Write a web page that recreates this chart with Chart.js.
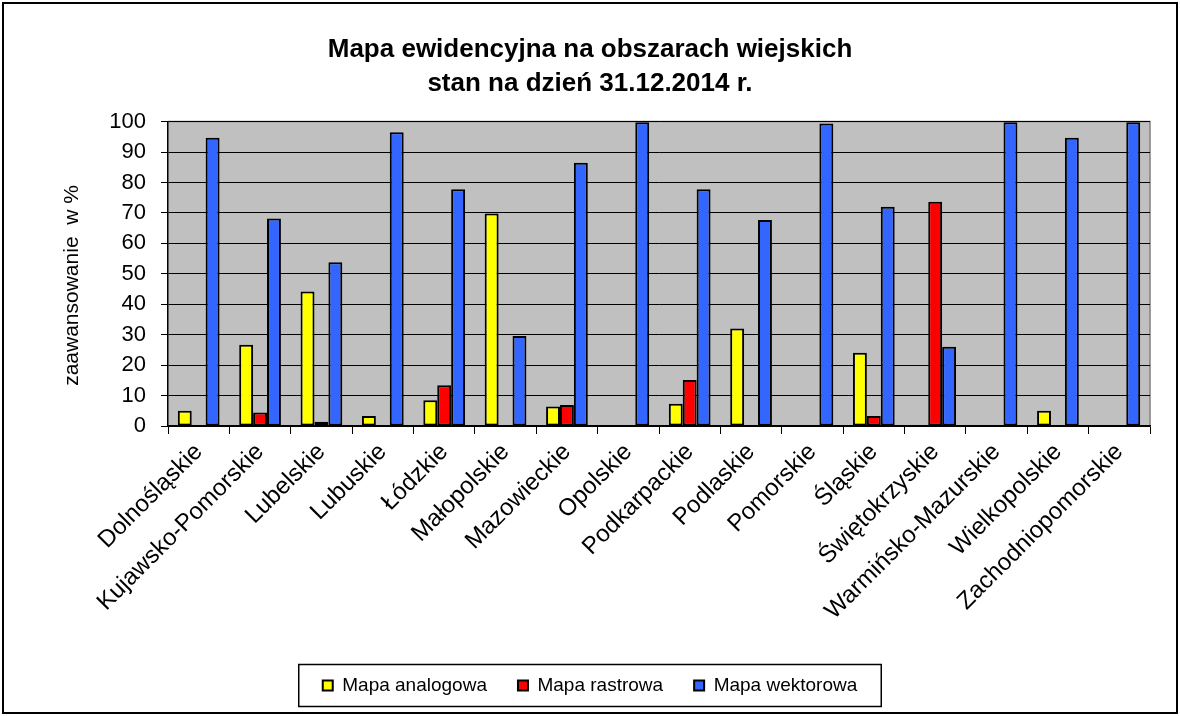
<!DOCTYPE html>
<html>
<head>
<meta charset="utf-8">
<script src="https://cdn.jsdelivr.net/npm/chart.js@4/dist/chart.umd.min.js"></script>
<style>
  html, body { margin: 0; padding: 0; background: #fff; }
  #wrap { width: 1180px; height: 716px; }
</style>
</head>
<body>
<div id="wrap"><canvas id="chart" width="1180" height="716"></canvas></div>
<script>
const categories = [
  "Dolnośląskie", "Kujawsko-Pomorskie", "Lubelskie", "Lubuskie", "Łódzkie",
  "Małopolskie", "Mazowieckie", "Opolskie", "Podkarpackie", "Podlaskie",
  "Pomorskie", "Śląskie", "Świętokrzyskie", "Warmińsko-Mazurskie",
  "Wielkopolskie", "Zachodniopomorskie"
]

const mapaAnalogowa = [5.0, 26.7, 44.2, 3.3, 8.5, 69.8, 6.4, 0, 7.3, 32.0, 0.3, 24.1, 0, 0, 5.0, 0]
const mapaRastrowa = [0, 4.4, 1.4, 0, 13.4, 0, 6.9, 0, 15.1, 0, 0, 3.3, 73.7, 0, 0, 0]
const mapaWektorowa = [94.7, 68.2, 53.8, 96.5, 77.8, 29.6, 86.5, 99.8, 77.8, 67.7, 99.4, 72.0, 26.0, 99.8, 94.7, 99.8]

const titleLines = ["Mapa ewidencyjna na obszarach wiejskich", "stan na dzień 31.12.2014 r."]
const yTicks = [0, 10, 20, 30, 40, 50, 60, 70, 80, 90, 100]

const FONT = "'Liberation Sans', Arial, sans-serif"

// fond, ramka wykresu i obszaru danych
const framePlugin = {
  id: "frame",
  beforeDraw(chart) {
    const { ctx, chartArea: a } = chart
    ctx.save()
    ctx.fillStyle = "#fff"
    ctx.fillRect(0, 0, chart.width, chart.height)
    ctx.lineWidth = 2
    ctx.strokeStyle = "#000"
    ctx.strokeRect(3, 3, chart.width - 6, chart.height - 6)
    ctx.fillStyle = "#c0c0c0"
    ctx.fillRect(a.left, a.top, a.right - a.left, a.bottom - a.top)
    ctx.strokeStyle = "#808080"
    ctx.lineWidth = 1.5
    ctx.beginPath()
    ctx.moveTo(a.left, a.top)
    ctx.lineTo(a.right, a.top)
    ctx.lineTo(a.right, a.bottom)
    ctx.stroke()
    ctx.restore()
  },
  afterDraw(chart) {
    // ramka legendy
    const boxes = chart.legend.legendHitBoxes
    if (!boxes || !boxes.length) return
    const left = Math.min(...boxes.map((b) => b.left)) - 24
    const right = Math.max(...boxes.map((b) => b.left + b.width)) + 24
    const mid = boxes[0].top + boxes[0].height / 2
    const { ctx } = chart
    ctx.save()
    ctx.strokeStyle = "#000"
    ctx.lineWidth = 1.5
    ctx.strokeRect(left, mid - 21, right - left, 42)
    ctx.restore()
  },
}

const ds = (label, data, color) => ({
  label,
  data,
  backgroundColor: color,
  borderColor: "#000",
  borderWidth: 2,
  borderSkipped: false,
  categoryPercentage: 0.68,
  barPercentage: 1.0,
})

new Chart(document.getElementById("chart").getContext("2d"), {
  type: "bar",
  data: {
    labels: categories,
    datasets: [
      ds("Mapa analogowa", mapaAnalogowa, "#ffff00"),
      ds("Mapa rastrowa", mapaRastrowa, "#ff0000"),
      ds("Mapa wektorowa", mapaWektorowa, "#3366ff"),
    ],
  },
  options: {
    responsive: false,
    animation: false,
    layout: { padding: { left: 0, right: 0, top: 0, bottom: 11 } },
    plugins: {
      title: {
        display: true,
        text: titleLines,
        color: "#000",
        font: { family: FONT, size: 26, weight: "bold", lineHeight: 1.3 },
        padding: { top: 33, bottom: 21 },
      },
      legend: {
        position: "bottom",
        labels: {
          color: "#000",
          font: { family: FONT, size: 19 },
          boxWidth: 10,
          boxHeight: 10,
          padding: 31,
        },
      },
      tooltip: { enabled: false },
    },
    scales: {
      x: {
        grid: {
          display: true,
          drawOnChartArea: false,
          drawTicks: true,
          tickLength: 8,
          color: "#000",
          lineWidth: 1,
        },
        border: { display: true, color: "#000", width: 1.5 },
        ticks: {
          color: "#000",
          font: { family: FONT, size: 24 },
          minRotation: 45,
          maxRotation: 45,
          autoSkip: false,
          padding: 4,
        },
        afterFit: (scale) => {
          scale.height = 219
        },
      },
      y: {
        min: 0,
        max: 100,
        afterBuildTicks: (scale) => {
          scale.ticks = yTicks.map((v) => ({ value: v }))
        },
        grid: { color: "#000", lineWidth: 1, tickLength: 7 },
        border: { display: true, color: "#000", width: 1.5 },
        ticks: {
          color: "#000",
          font: { family: FONT, size: 22 },
          padding: 15,
        },
        title: {
          display: true,
          text: "zaawansowanie  w %    ",
          color: "#000",
          font: { family: FONT, size: 21 },
          padding: { top: 60, bottom: 0 },
        },
        afterFit: (scale) => {
          scale.width = 168
        },
      },
      yR: {
        position: "right",
        display: true,
        grid: { display: false },
        border: { display: false },
        ticks: { display: false },
        afterFit: (scale) => {
          scale.width = 30
        },
      },
    },
  },
  plugins: [framePlugin],
})
</script>
</body>
</html>
